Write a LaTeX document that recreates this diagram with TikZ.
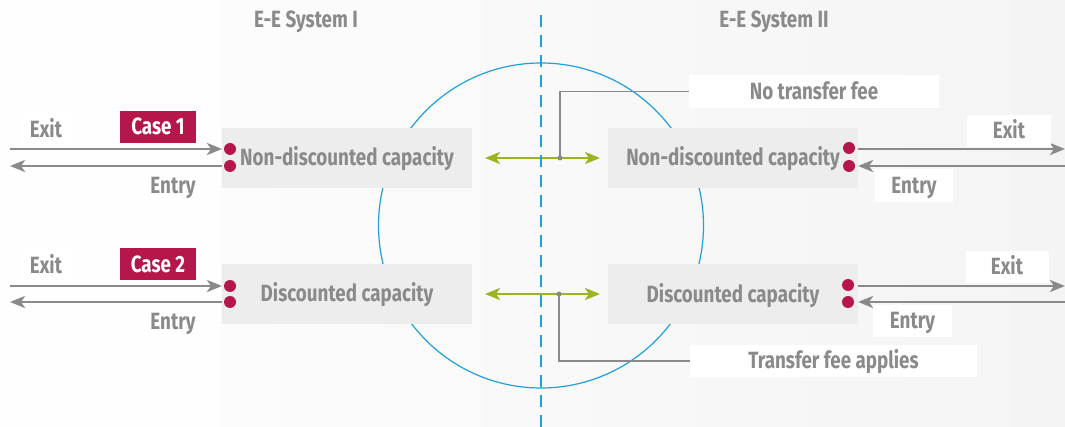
\documentclass[tikz,border=0pt]{standalone}
\usepackage{fontspec}
\setmainfont[FakeStretch=0.8]{Fira Sans}
\usetikzlibrary{arrows.meta}
\definecolor{txtgray}{HTML}{8A8A8A}
\definecolor{boxgray}{HTML}{EDEDED}
\definecolor{crim}{HTML}{B5174B}
\definecolor{sysblue}{HTML}{1EA0DC}
\definecolor{arrgreen}{HTML}{9BB51E}
\definecolor{bgleft}{HTML}{FEFEFE}
\definecolor{bgA}{HTML}{FCFCFC}
\definecolor{bgB}{HTML}{F4F4F4}
\tikzset{
  every node/.style={font=\bfseries\fontsize{23.5}{26}\selectfont, inner sep=0pt, text height=16pt, text depth=0pt},
  capbox/.style={fill=boxgray, text=txtgray, minimum width=250pt, minimum height=60pt},
  lbl/.style={fill=white, text=txtgray},
  casebox/.style={fill=crim, text=white, minimum width=76pt, minimum height=32pt},
  pdot/.style={circle, fill=crim, minimum size=12pt, text height=, text depth=},
  sdot/.style={circle, fill=txtgray, minimum size=5pt, text height=, text depth=},
  grayarr/.style={draw=txtgray, line width=2.9pt, -{Stealth[length=15pt,width=12pt,inset=4pt]}},
  greenarr/.style={draw=arrgreen, line width=2.9pt, {Stealth[length=15pt,width=12pt,inset=4pt]}-{Stealth[length=15pt,width=12pt,inset=4pt]}},
  callout/.style={draw=txtgray, line width=1.4pt},
  title/.style={text=txtgray}
}
\begin{document}
\begin{tikzpicture}[x=1pt,y=-1pt]
\useasboundingbox (0,0) rectangle (1065,427);
% background
\fill[bgleft] (0,0) rectangle (220,427);
\shade[left color=bgA, right color=bgB] (220,0) rectangle (1065,427);
% circle
\draw[sysblue, line width=1.2pt] (541,225.5) circle[radius=162.5];
% titles
\node[title] (t1) at (306,20) {E-E System I};
\node[title] (t2) at (774,20) {E-E System II};
% capacity boxes
\node[capbox] (L1) at (347,158) {Non-discounted capacity};
\node[capbox] (L2) at (347,294) {Discounted capacity};
\node[capbox] (R1) at (733,158) {Non-discounted capacity};
\node[capbox] (R2) at (733,294.5) {Discounted capacity};
% dots
\node[pdot] (L1a) at (230,149) {};
\node[pdot] (L1b) at (230,166) {};
\node[pdot] (L2a) at (230,286) {};
\node[pdot] (L2b) at (230,302) {};
\node[pdot] (R1a) at (849,148) {};
\node[pdot] (R1b) at (849,166) {};
\node[pdot] (R2a) at (848,285) {};
\node[pdot] (R2b) at (848,302) {};
% free ends
\coordinate (eL1a) at (10,149);
\coordinate (eL1b) at (10,166);
\coordinate (eL2a) at (10,286);
\coordinate (eL2b) at (10,302);
\coordinate (eR1a) at (1065,149);
\coordinate (eR1b) at (1065,166);
\coordinate (eR2a) at (1065,286);
\coordinate (eR2b) at (1065,302);
\coordinate (sL1a) at (222,149);
\coordinate (sL1b) at (222,166);
\coordinate (sL2a) at (222,286);
\coordinate (sL2b) at (222,302);
\coordinate (sR1a) at (858,149);
\coordinate (sR1b) at (858,166);
\coordinate (sR2a) at (858,286);
\coordinate (sR2b) at (858,302);
% gray arrows
\draw[grayarr] (eL1a) -- (sL1a);
\draw[grayarr] (sL1b) -- (eL1b);
\draw[grayarr] (eL2a) -- (sL2a);
\draw[grayarr] (sL2b) -- (eL2b);
\draw[grayarr] (sR1a) -- (eR1a);
\draw[grayarr] (eR1b) -- (sR1b);
\draw[grayarr] (sR2a) -- (eR2a);
\draw[grayarr] (eR2b) -- (sR2b);
% labels
\node[lbl, minimum width=52pt, minimum height=34pt] (xL1) at (46,130) {Exit};
\node[lbl, minimum width=60pt, minimum height=32pt] (nL1) at (173,186) {Entry};
\node[lbl, minimum width=52pt, minimum height=34pt] (xL2) at (46,266) {Exit};
\node[lbl, minimum width=60pt, minimum height=32pt] (nL2) at (173,322) {Entry};
\node[casebox] (c1) at (158,127) {Case 1};
\node[casebox] (c2) at (158,264.5) {Case 2};
\node[lbl, minimum width=84pt, minimum height=32pt] (xR1) at (1009,131) {Exit};
\node[lbl, minimum width=78pt, minimum height=33pt] (nR1) at (914,185.5) {Entry};
\node[lbl, minimum width=83pt, minimum height=32pt] (xR2) at (1007,267) {Exit};
\node[lbl, minimum width=79pt, minimum height=32pt] (nR2) at (912.5,321) {Entry};
% green arrows
\coordinate (gL1) at (485,158);
\coordinate (gR1) at (600,158);
\coordinate (gL2) at (485,294);
\coordinate (gR2) at (600,294);
\draw[greenarr] (gL1) -- (gR1);
\draw[greenarr] (gL2) -- (gR2);
% dashed divider
\coordinate (dTop) at (541,15);
\coordinate (dBot) at (541,427);
\draw[sysblue, line width=2.8pt, dash pattern=on 12pt off 8pt] (dTop) -- (dBot);
% callouts
\node[lbl, minimum width=250pt, minimum height=33pt] (nofee) at (814,91.5) {No transfer fee};
\node[lbl, minimum width=287pt, minimum height=32pt] (fee) at (833.5,361) {Transfer fee applies};
\node[sdot] (p1) at (560,158) {};
\node[sdot] (p2) at (559,294) {};
\draw[callout] (nofee.west) -| (p1.center);
\draw[callout] (fee.west) -| (p2.center);
\end{tikzpicture}
\end{document}
